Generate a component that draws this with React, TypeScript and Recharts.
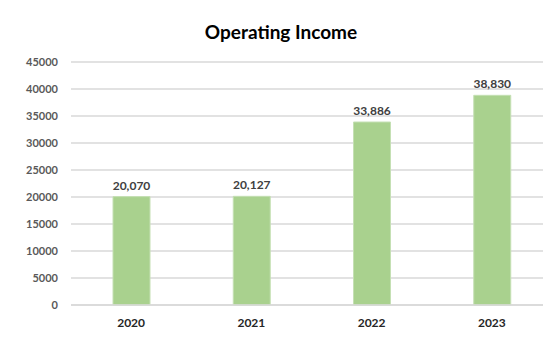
import { BarChart, Bar, XAxis, YAxis, CartesianGrid, LabelList } from "recharts";

const years = ["2020", "2021", "2022", "2023"];
const operatingIncome = [20070, 20127, 33886, 38830];
const yTicks = [0, 5000, 10000, 15000, 20000, 25000, 30000, 35000, 40000, 45000];

const data = years.map((year, i) => ({ year, value: operatingIncome[i] }));

const font = "Lato, 'Open Sans', sans-serif";

export default function App() {
  return (
    <div
      style={{
        position: "absolute",
        left: 0,
        top: 0,
        width: 543,
        height: 351,
        overflow: "hidden",
        background: "#fff",
        fontFamily: font,
      }}
    >
      <div
        style={{
          position: "absolute",
          left: 0,
          top: 20,
          width: 562,
          textAlign: "center",
          fontSize: 19,
          fontWeight: 700,
          color: "#000",
        }}
      >
        Operating Income
      </div>
      <BarChart
        width={560}
        height={351}
        data={data}
        margin={{ top: 62, right: 8, bottom: 16, left: 0 }}
        barSize={37}
      >
        <CartesianGrid vertical={false} stroke="#D9D9D9" strokeWidth={1.5} />
        <XAxis
          dataKey="year"
          axisLine={{ stroke: "#D9D9D9", strokeWidth: 1.5 }}
          tickLine={false}
          tickSize={0}
          tickMargin={13}
          height={30}
          tick={{ fill: "#262626", fontSize: 12, fontWeight: 700, fontFamily: font }}
        />
        <YAxis
          domain={[0, 45000]}
          ticks={yTicks}
          width={71}
          axisLine={false}
          tickLine={false}
          tickSize={0}
          tickMargin={13}
          interval={0}
          tick={{ fill: "#595959", fontSize: 11, fontWeight: 700, fontFamily: font }}
        />
        <Bar dataKey="value" fill="#A9D18E" stroke="#C5E0B4" strokeWidth={1} isAnimationActive={false}>
          <LabelList
            dataKey="value"
            position="top"
            offset={7}
            formatter={(v: any) => Number(v).toLocaleString("en-US")}
            style={{ fill: "#404040", fontSize: 12, fontWeight: 700, fontFamily: font }}
          />
        </Bar>
      </BarChart>
    </div>
  );
}
